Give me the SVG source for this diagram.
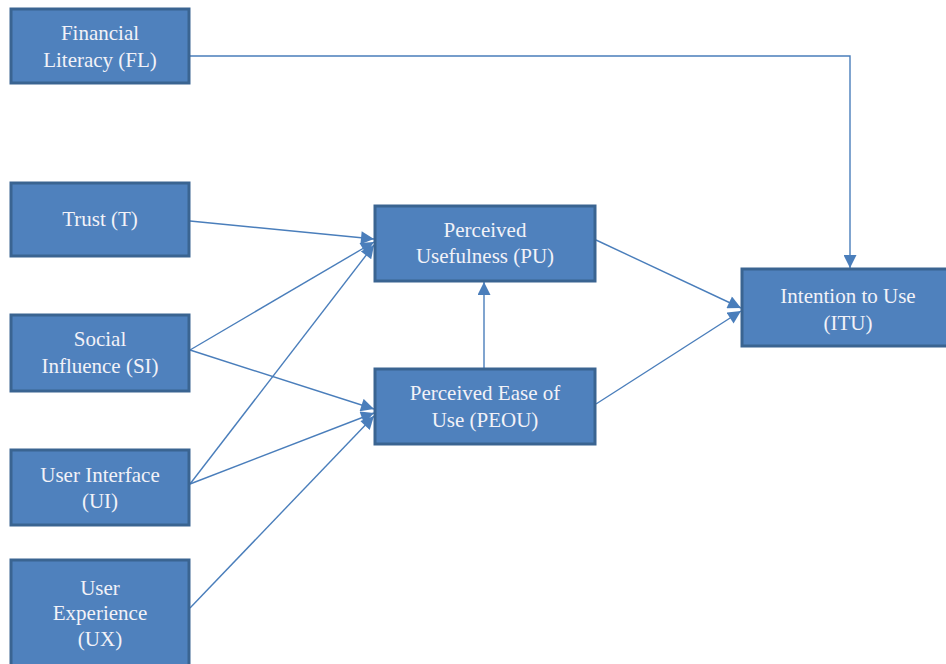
<svg xmlns="http://www.w3.org/2000/svg" width="946" height="664" viewBox="0 0 946 664">
<style>
.box{fill:#4F81BD;stroke:#3A6491;stroke-width:3}
.t{font-family:'Liberation Serif','Times New Roman',serif;font-size:21px;fill:#F2F2F8;text-anchor:middle}
.c{fill:none;stroke:#4A7EBB;stroke-width:1.4}
</style>
<defs>
<marker id="ah" viewBox="0 0 10 10" refX="10" refY="5" markerWidth="14" markerHeight="13" markerUnits="userSpaceOnUse" orient="auto">
<path d="M0,0 L10,5 L0,10 z" fill="#4A7EBB"/>
</marker>
</defs>
<rect width="946" height="664" fill="#FFFFFF"/>
<g id="connectors">
<polyline class="c" points="190,56 850,56 850,268" marker-end="url(#ah)"/>
<line class="c" x1="190" y1="221" x2="374" y2="239" marker-end="url(#ah)"/>
<line class="c" x1="190" y1="350" x2="374" y2="242" marker-end="url(#ah)"/>
<line class="c" x1="190" y1="484" x2="374" y2="245" marker-end="url(#ah)"/>
<line class="c" x1="190" y1="350" x2="374" y2="409" marker-end="url(#ah)"/>
<line class="c" x1="190" y1="484" x2="374" y2="413" marker-end="url(#ah)"/>
<line class="c" x1="190" y1="608" x2="374" y2="416" marker-end="url(#ah)"/>
<line class="c" x1="484" y1="368" x2="484" y2="282" marker-end="url(#ah)"/>
<line class="c" x1="596" y1="240" x2="741" y2="308" marker-end="url(#ah)"/>
<line class="c" x1="596" y1="404" x2="741" y2="311" marker-end="url(#ah)"/>
</g>
<g id="FL"><rect class="box" x="11" y="9" width="178" height="74"/><text class="t" x="100" y="40">Financial</text><text class="t" x="100" y="67">Literacy (FL)</text></g>
<g id="T"><rect class="box" x="11" y="183" width="178" height="73"/><text class="t" x="100" y="226">Trust (T)</text></g>
<g id="SI"><rect class="box" x="11" y="315" width="178" height="76"/><text class="t" x="100" y="346">Social</text><text class="t" x="100" y="373">Influence (SI)</text></g>
<g id="UI"><rect class="box" x="11" y="450" width="178" height="75"/><text class="t" x="100" y="482">User Interface</text><text class="t" x="100" y="508">(UI)</text></g>
<g id="UX"><rect class="box" x="11" y="560" width="178" height="110"/><text class="t" x="100" y="595">User</text><text class="t" x="100" y="620">Experience</text><text class="t" x="100" y="646">(UX)</text></g>
<g id="PU"><rect class="box" x="375" y="206" width="220" height="75"/><text class="t" x="485" y="237">Perceived</text><text class="t" x="485" y="263">Usefulness (PU)</text></g>
<g id="PEOU"><rect class="box" x="375" y="369" width="220" height="75"/><text class="t" x="485" y="400">Perceived Ease of</text><text class="t" x="485" y="427">Use (PEOU)</text></g>
<g id="ITU"><rect class="box" x="742" y="269" width="210" height="77"/><text class="t" x="848" y="303">Intention to Use</text><text class="t" x="848" y="330">(ITU)</text></g>
</svg>
